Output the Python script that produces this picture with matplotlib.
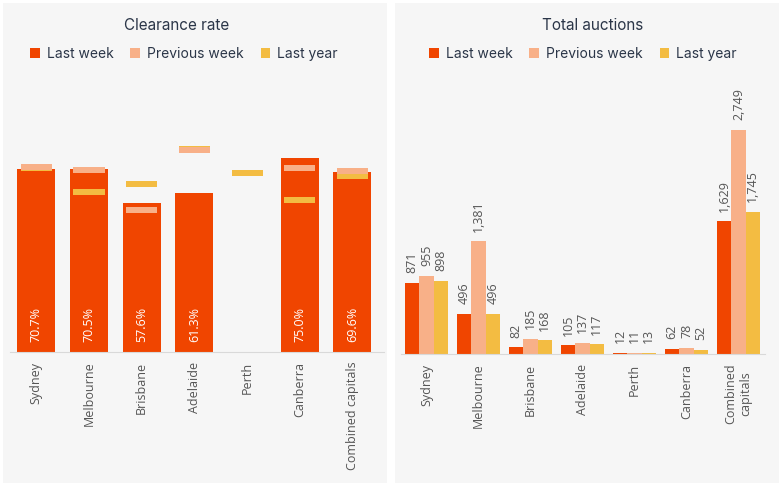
import numpy as np
import matplotlib.pyplot as plt
from matplotlib.patches import Rectangle, Patch

cities = ['Sydney', 'Melbourne', 'Brisbane', 'Adelaide', 'Perth', 'Canberra', 'Combined capitals']
cities_wrap = ['Sydney', 'Melbourne', 'Brisbane', 'Adelaide', 'Perth', 'Canberra', 'Combined\ncapitals']

# clearance rate (%)
clr_last = [70.7, 70.5, 57.6, 61.3, np.nan, 75.0, 69.6]
clr_prev = [71.4, 70.3, 54.8, 78.1, np.nan, 71.0, 69.9]
clr_year = [71.0, 61.8, 64.9, 78.4, 69.1, 58.7, 68.0]

# total auctions
auc_last = [871, 496, 82, 105, 12, 62, 1629]
auc_prev = [955, 1381, 185, 137, 11, 78, 2749]
auc_year = [898, 496, 168, 117, 13, 52, 1745]

C_LAST = '#F04500'
C_PREV = '#F8B088'
C_YEAR = '#F3BC42'
BG = '#F6F6F6'
TXT = '#2B3648'
GREY = '#555555'

W, H = 782, 486
fig = plt.figure(figsize=(W / 100, H / 100), dpi=100)
fig.patch.set_facecolor('white')

# grey panels
for x0, x1 in [(3, 387), (395, 779)]:
    fig.add_artist(Rectangle((x0 / W, 3 / H), (x1 - x0) / W, 480 / H,
                             transform=fig.transFigure, facecolor=BG, edgecolor='none', zorder=-10))

tick_font = ['Open Sans', 'DejaVu Sans']
head_font = ['Inter', 'DejaVu Sans']


def style_axes(ax):
    ax.set_facecolor('none')
    for s in ['top', 'left', 'right']:
        ax.spines[s].set_visible(False)
    ax.spines['bottom'].set_color('#D9D9D9')
    ax.set_yticks([])
    ax.tick_params(axis='x', length=0, pad=7, labelsize=9, labelcolor=GREY)


def add_legend(xc):
    handles = [Patch(facecolor=C_LAST, label='Last week'),
               Patch(facecolor=C_PREV, label='Previous week'),
               Patch(facecolor=C_YEAR, label='Last year')]
    lg = fig.legend(handles=handles, loc='center', bbox_to_anchor=(xc / W, 1 - 54 / H), ncol=3,
                    frameon=False, handlelength=0.7, handleheight=0.7, handletextpad=0.5,
                    columnspacing=1.2, prop={'family': head_font, 'size': 10})
    for t in lg.get_texts():
        t.set_color(TXT)


x = np.arange(len(cities))

# ---- Clearance rate ----
ax1 = fig.add_axes([10 / W, 134 / H, 374 / W, 259 / H])
style_axes(ax1)
ax1.set_xlim(-0.5, 6.6)
ax1.set_ylim(0, 100)
ax1.bar(x, clr_last, width=0.72, color=C_LAST, zorder=2)
mh = 2.3
ax1.bar(x, [mh] * len(x), bottom=np.array(clr_year) - mh / 2, width=0.59, color=C_YEAR, zorder=3)
ax1.bar(x, [mh] * len(x), bottom=np.array(clr_prev) - mh / 2, width=0.59, color=C_PREV, zorder=4)
for i, v in enumerate(clr_last):
    if not np.isnan(v):
        ax1.annotate(f'{v:.1f}%', (i, 0), xytext=(0, 7), textcoords='offset points',
                     rotation=90, ha='center', va='bottom', color='white', fontsize=9,
                     family=tick_font, zorder=5)
ax1.set_xticks(x)
ax1.set_xticklabels(cities, rotation=90, family=tick_font)
fig.text(177 / W, 1 - 25 / H, 'Clearance rate', ha='center', va='center', fontsize=11,
         color=TXT, family=head_font)
add_legend(184)

# ---- Total auctions ----
ax2 = fig.add_axes([401 / W, 132 / H, 364 / W, 244.5 / H])
style_axes(ax2)
ax2.set_xlim(-0.49, 6.51)
ax2.set_ylim(0, 3000)
bw = 0.275
for off, vals, col in [(-bw, auc_last, C_LAST), (0, auc_prev, C_PREV), (bw, auc_year, C_YEAR)]:
    bars = ax2.bar(x + off, vals, width=bw, color=col, zorder=2)
    for b, v in zip(bars, vals):
        ax2.annotate(f'{v:,}', (b.get_x() + b.get_width() / 2, v), xytext=(0, 7),
                     textcoords='offset points', rotation=90, ha='center', va='bottom',
                     color=GREY, fontsize=9, family=tick_font)
ax2.set_xticks(x)
ax2.set_xticklabels(cities_wrap, rotation=90, family=tick_font, multialignment='center')
fig.text(593 / W, 1 - 25 / H, 'Total auctions', ha='center', va='center', fontsize=11,
         color=TXT, family=head_font)
add_legend(583)

fig.savefig('out.png', dpi=100, facecolor='white')
